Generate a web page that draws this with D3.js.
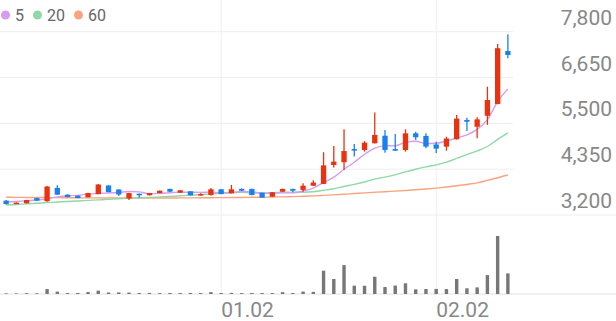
<!DOCTYPE html>
<html>
<head>
<meta charset="utf-8">
<script src="https://cdn.jsdelivr.net/npm/d3@7"></script>
<style>
  body { margin: 0; background: #fff; }
  text { font-family: Roboto, "Noto Sans", sans-serif; }
</style>
</head>
<body>
<script>

// trading days, dec 2022 - feb 2023
var dates = ["12.01","12.02","12.05","12.06","12.07","12.08","12.09","12.12","12.13","12.14",
  "12.15","12.16","12.19","12.20","12.21","12.22","12.23","12.26","12.27","12.28",
  "12.29","01.02","01.03","01.04","01.05","01.06","01.09","01.10","01.11","01.12",
  "01.13","01.16","01.17","01.18","01.19","01.20","01.25","01.26","01.27","01.30",
  "01.31","02.01","02.02","02.03","02.06","02.07","02.08","02.09","02.10","02.13"];

var open  = [3560,3485,3495,3625,3545,3880,3710,3685,3645,3725,3940,3840,3615,3735,3695,3750,3855,3760,3795,3695,
             3700,3845,3745,3855,3855,3760,3660,3785,3855,3830,3935,3980,4455,4525,4855,4830,5000,5190,4855,4830,
             5250,5185,4970,4915,5100,5585,5415,5690,5985,7315];
var high  = [3575,3515,3580,3630,3930,3945,3720,3690,3760,3975,3955,3845,3760,3740,3755,3815,3860,3825,3800,3745,
             3880,3850,3955,3870,3860,3765,3775,3860,3860,3995,4075,4775,4930,5350,4980,5055,5770,5335,5235,5350,
             5290,5250,5040,5165,5710,5640,5650,6420,7490,7735];
var low   = [3465,3480,3490,3555,3535,3700,3645,3620,3640,3720,3770,3675,3575,3635,3690,3745,3780,3755,3690,3690,
             3690,3720,3740,3800,3695,3630,3655,3780,3770,3785,3930,3975,4395,4330,4665,4790,4995,4765,4805,4790,
             5085,4875,4755,4815,5095,5310,5125,5460,5980,7135];
var close = [3475,3510,3575,3560,3915,3710,3650,3625,3750,3965,3775,3715,3750,3695,3750,3810,3785,3820,3695,3725,
             3845,3725,3845,3810,3700,3635,3770,3855,3810,3935,4015,4445,4540,4805,4815,5015,5210,4830,4815,5250,
             5150,4915,4865,5120,5620,5540,5600,6085,7385,7215];

// moving averages as drawn
var ma5  = [3530,3540,3555,3575,3607,3654,3682,3692,3730,3740,3753,3766,3791,3780,3737,3744,3758,3772,3772,3767,
            3774,3762,3767,3790,3785,3743,3752,3754,3754,3801,3877,4012,4149,4348,4524,4724,4877,4935,4937,5024,
            5051,4992,4999,5060,5134,5212,5349,5593,6046,6365];
var ma20 = [3450,3465,3480,3495,3510,3525,3540,3553,3566,3580,3593,3606,3618,3630,3642,3655,3668,3682,3697,3713,
            3731,3742,3755,3768,3757,3753,3759,3771,3774,3772,3784,3821,3860,3916,3969,4029,4100,4151,4207,4283,
            4349,4408,4459,4525,4621,4716,4807,4919,5098,5262];
var ma60 = [3645,3643,3641,3639,3637,3635,3633,3632,3630,3629,3628,3627,3626,3626,3626,3627,3628,3629,3630,3632,
            3634,3636,3638,3641,3644,3647,3651,3656,3662,3670,3680,3692,3706,3722,3738,3754,3770,3785,3800,3815,
            3832,3852,3875,3902,3933,3967,4005,4070,4135,4205];

// volume, thousand shares
var volume = [32,28,41,36,248,117,46,52,98,168,74,79,71,48,55,43,51,47,53,45,
              96,49,57,44,52,48,46,92,51,121,108,1168,752,1447,418,412,866,348,421,536,
              233,249,254,247,752,286,331,948,2905,1034];

var priceTicks = [3200, 4350, 5500, 6650, 7800];
var dateTicks = ["01.02", "02.02"];
var maNames = ["5", "20", "60"];
var maColors = ["#d59cf0", "#8fd9a6", "#f7a47f"];

var width = 616, height = 321;
var upColor = "#e7330f", downColor = "#1a80ee";

var svg = d3.select("body").append("svg")
    .attr("width", width)
    .attr("height", height);

var x = d3.scaleBand().domain(dates).range([1, 513]);
var y = d3.scaleLinear().domain([3200, 7800]).range([215, 31.7]);
var yVol = d3.scaleLinear().domain([0, d3.max(volume)]).range([294, 236]);

var idx = d3.range(dates.length);
function cx(i) { return x(dates[i]) + x.bandwidth() / 2; }

// horizontal gridlines + right labels
svg.selectAll(".hgrid")
    .data(priceTicks)
    .enter()
    .append("line")
    .attr("x1", 0)
    .attr("x2", function(d) { return d == 3200 ? width : 513; })
    .attr("y1", function(d) { return y(d); })
    .attr("y2", function(d) { return y(d); })
    .attr("stroke", "#eeeeee")
    .attr("stroke-width", 1);

svg.selectAll(".plabel")
    .data(priceTicks)
    .enter()
    .append("text")
    .attr("x", 612)
    .attr("y", function(d) { return y(d) - 7; })
    .attr("text-anchor", "end")
    .style("font-size", "21px")
    .style("fill", "#888")
    .text(function(d) { return d3.format(",")(d); });

// vertical gridlines at date ticks
svg.selectAll(".vgrid")
    .data(dateTicks)
    .enter()
    .append("line")
    .attr("x1", function(d) { return cx(dates.indexOf(d)); })
    .attr("x2", function(d) { return cx(dates.indexOf(d)); })
    .attr("y1", 0)
    .attr("y2", 294)
    .attr("stroke", "#f0f0f0")
    .attr("stroke-width", 1);

svg.selectAll(".dlabel")
    .data(dateTicks)
    .enter()
    .append("text")
    .attr("x", function(d) { return cx(dates.indexOf(d)); })
    .attr("y", 317)
    .style("font-size", "21px")
    .style("fill", "#888")
    .text(function(d) { return d; });

// volume baseline
svg.append("line")
    .attr("x1", 0).attr("x2", width)
    .attr("y1", yVol(0)).attr("y2", yVol(0))
    .attr("stroke", "#e2e2e2");

// moving average lines
[ma60, ma20, ma5].forEach(function(ma, k) {
  var line = d3.line()
      .x(function(d, i) { return cx(i); })
      .y(function(d) { return y(d); })
      .curve(d3.curveMonotoneX);
  svg.append("path")
      .datum(ma)
      .attr("d", line)
      .attr("fill", "none")
      .attr("stroke", maColors[2 - k])
      .attr("stroke-width", 1.4);
});

// candles
var candle = svg.selectAll(".candle")
    .data(idx)
    .enter()
    .append("g");

candle.append("line")
    .attr("x1", function(i) { return cx(i); })
    .attr("x2", function(i) { return cx(i); })
    .attr("y1", function(i) { return y(high[i]); })
    .attr("y2", function(i) { return y(low[i]); })
    .attr("stroke", function(i) { return close[i] >= open[i] ? upColor : downColor; })
    .attr("stroke-width", 1.3);

candle.append("rect")
    .attr("x", function(i) { return cx(i) - x.bandwidth() * 0.26; })
    .attr("width", x.bandwidth() * 0.52)
    .attr("y", function(i) { return y(Math.max(open[i], close[i])); })
    .attr("height", function(i) { return Math.max(1.5, Math.abs(y(open[i]) - y(close[i]))); })
    .attr("fill", function(i) { return close[i] >= open[i] ? upColor : downColor; });

// volume bars
svg.selectAll(".vol")
    .data(idx)
    .enter()
    .append("rect")
    .attr("x", function(i) { return cx(i) - 1.7; })
    .attr("width", 3.4)
    .attr("y", function(i) { return yVol(volume[i]); })
    .attr("height", function(i) { return yVol(0) - yVol(volume[i]); })
    .attr("fill", "#777");

// legend
var lx = 5.5;
maNames.forEach(function(name, k) {
  svg.append("circle")
      .attr("cx", lx)
      .attr("cy", 15)
      .attr("r", 4.5)
      .attr("fill", maColors[k]);
  var t = svg.append("text")
      .attr("x", lx + 9.5)
      .attr("y", 21)
      .style("font-size", "16px")
      .style("fill", "#666")
      .text(name);
  lx = lx + 9.5 + t.node().getComputedTextLength() + 13.5;
});

</script>
</body>
</html>
